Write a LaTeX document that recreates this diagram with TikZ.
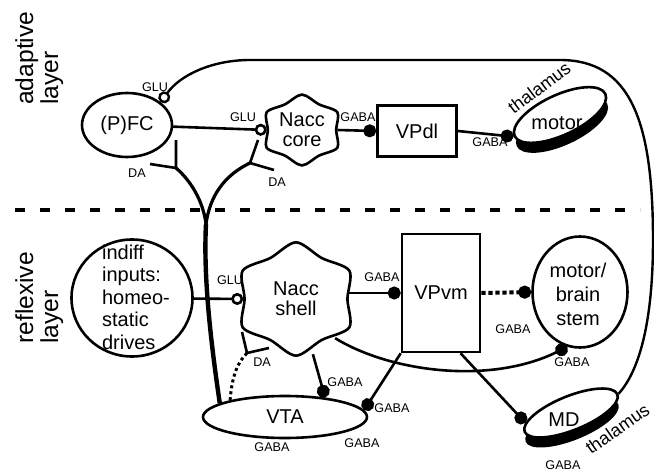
\documentclass[tikz,border=0pt]{standalone}
\usepackage{fontspec}
\setmainfont{Liberation Sans}
\usetikzlibrary{arrows.meta, shapes.geometric}

% rounded hexagonal outline round a nucleus node: node, x radius, y radius
\newcommand{\nacc}[3]{%
  \draw[shift={(#1.center)}] plot[smooth cycle, samples=12, domain=0:330]
    ({#2*(1-0.09*cos(6*\x))*cos(\x)}, {#3*(1-0.09*cos(6*\x))*sin(\x)});}

\begin{document}
\begin{tikzpicture}[x=0.5pt, y=-0.5pt, line width=1.3pt, inner sep=0pt,
  txt/.style={font=\fontsize{10}{10}\selectfont, align=center},
  tag/.style={font=\fontsize{6.3}{7}\selectfont},
  layer/.style={font=\fontsize{12.3}{12.5}\selectfont, align=left, rotate=90, anchor=north west},
  thal/.style={font=\fontsize{9}{10}\selectfont, anchor=base},
  area/.style={draw, ellipse, txt},
  nucleus/.style={ellipse, txt},
  box/.style={draw, rectangle, txt},
  disk/.style={ellipse, minimum width=50pt},
  gaba/.style={-{Circle[length=6.5pt]}},
  glu/.style={-{Circle[length=6pt, fill=white]}},
  axon/.style={line width=1.6pt},
  dadot/.style={line width=1.5pt, dash pattern=on 1.5pt off 1.5pt}]

\useasboundingbox (0,0) rectangle (654,471);

% Layer names and the border between the layers
\node[layer] (adaptive) at (14,106) {adaptive\\layer};
\node[layer] (reflexive) at (14,345) {reflexive\\layer};
\draw[line width=2pt, dash pattern=on 5pt off 7.5pt] (15,210) -- (640,210);

% Adaptive layer
\node[area, minimum width=45pt, minimum height=32pt] (pfc) at (127,125) {(P)FC};
\node[nucleus, minimum width=34pt, minimum height=35pt] (core) at (302,130) {Nacc\\core};
\nacc{core}{37.5}{32.5}
\node[box, minimum width=39.5pt, minimum height=25.5pt] (vpdl) at (417,131) {VPdl};

% motor thalamus as a disk
\node[disk, fill, rotate=25, minimum height=20pt] (motorrim) at (562,125) {};
\node[disk, draw, fill=white, rotate=25, minimum height=20pt] (motor) at (560,115) {};
\node[txt] (motorname) at (557,123) {motor};
\node[thal, rotate=37] (motorthal) at (543,93) {thalamus};

% Reflexive layer
\node[area, minimum width=60.5pt, minimum height=58.5pt] (indiff) at (132,298) {};
\node[txt, align=left, font=\fontsize{10}{11.25}\selectfont] (indifftext) at (136,297) {indiff\\inputs:\\homeo-\\static\\drives};
\node[nucleus, minimum width=51.5pt, minimum height=57pt] (shell) at (296,299) {Nacc\\shell};
\nacc{shell}{56.5}{52}
\node[box, minimum width=39pt, minimum height=59pt] (vpvm) at (441,293) {VPvm};
\node[area, minimum width=47.5pt, minimum height=55.5pt] (stem) at (580,292) {};
\node[txt, font=\fontsize{10}{12}\selectfont] (stemtext) at (578,294) {motor/\\brain\\stem};
\node[area, minimum width=82pt, minimum height=21pt] (vta) at (285,417) {VTA};

% MD thalamus as a disk
\node[disk, fill, rotate=22, minimum height=17pt] (mdrim) at (572,423) {};
\node[disk, draw, fill=white, rotate=22, minimum height=17pt] (md) at (571,413) {};
\node[txt] (mdname) at (564,420) {MD};
\node[thal, rotate=35] (mdthal) at (621,434) {thalamus};

% Glutamate inputs
\draw[glu, line width=1.2pt] (md.east) .. controls (640,370) and (653,320) .. (653,240)
  .. controls (653,120) and (630,60) .. (560,60) -- (250,60)
  .. controls (212,60) and (180,75) .. (pfc.34);
\draw[glu] (pfc) -- (core.west);
\draw[glu] (indiff) -- (shell.west);

% GABA outputs
\draw[gaba] (core.east) -- (vpdl.west);
\draw[gaba] (vpdl.east) -- (motor.west);
\draw[gaba] (vpvm.west -| shell.east) -- (vpvm.west);
\draw[gaba, line width=2pt, dash pattern=on 2.2pt off 1.3pt] (vpvm.east) -- (stem.west);
\draw[gaba] (shell.-45) .. controls (390,372) and (490,385) .. (stem.257);
\draw[gaba] (shell.-73) -- (vta.26);
\draw[gaba] (vpvm.south west) -- (vta.5);
\draw[gaba] (vpvm.-72) -- (md.170);

% Dopamine from the VTA
\coordinate (vjoin) at (206,224);
\coordinate (dapfc) at (176,168);
\coordinate (dacore) at (250,163);
\coordinate (dashell) at (247,353);
\draw[line width=2.2pt] (vta.168) .. controls (212,350) and (203,280) .. (vjoin);
\draw[axon] (vjoin) .. controls (203,200) and (190,180) .. (dapfc);
\draw[axon] (vjoin) .. controls (210,195) and (225,175) .. (dacore);
\draw[dadot] (vta.163) .. controls (232,375) and (238,362) .. (dashell);
\draw (dapfc) -- ++(0,-28) (dapfc) -- ++(-26,-4);
\draw (dacore) -- ++(8,-23) (dacore) -- ++(24,7);
\draw (dashell) -- ++(-5,-21) (dashell) -- ++(22,-5);

% Transmitter labels
\node[tag] (glu1) at (155,87) {GLU};
\node[tag] (glu2) at (243,117) {GLU};
\node[tag] (glu3) at (230,280) {GLU};
\node[tag] (da1) at (137,173) {DA};
\node[tag] (da2) at (277,182) {DA};
\node[tag] (da3) at (262,362) {DA};
\node[tag] (gaba1) at (358,117) {GABA};
\node[tag] (gaba2) at (490,142) {GABA};
\node[tag] (gaba3) at (382,277) {GABA};
\node[tag] (gaba4) at (513,329) {GABA};
\node[tag] (gaba5) at (572,362) {GABA};
\node[tag] (gaba6) at (345,382) {GABA};
\node[tag] (gaba7) at (392,408) {GABA};
\node[tag] (gaba8) at (272,447) {GABA};
\node[tag] (gaba9) at (362,443) {GABA};
\node[tag] (gaba10) at (563,465) {GABA};

\end{tikzpicture}
\end{document}
